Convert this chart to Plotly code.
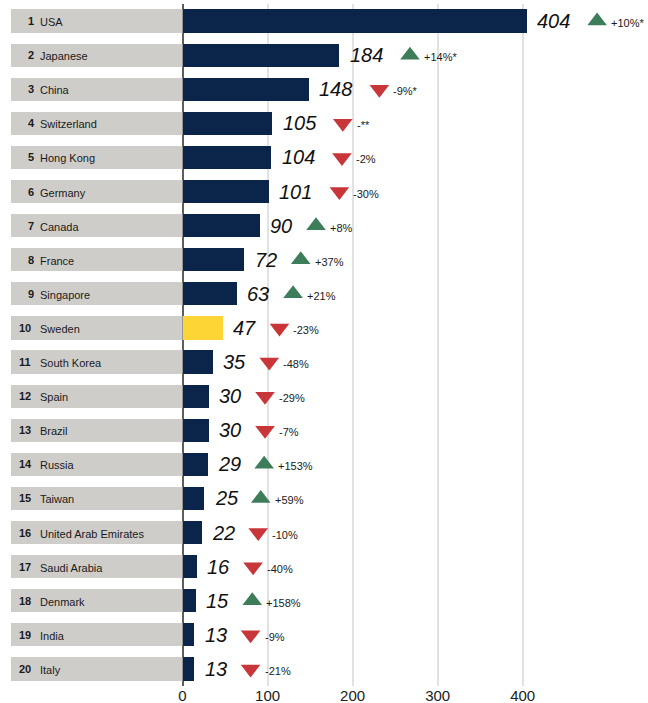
import plotly.graph_objects as go

# Ranking data
ranks = list(range(1, 21))
countries = ["USA", "Japanese", "China", "Switzerland", "Hong Kong", "Germany",
             "Canada", "France", "Singapore", "Sweden", "South Korea", "Spain",
             "Brazil", "Russia", "Taiwan", "United Arab Emirates", "Saudi Arabia",
             "Denmark", "India", "Italy"]
values = [404, 184, 148, 105, 104, 101, 90, 72, 63, 47, 35, 30, 30, 29, 25,
          22, 16, 15, 13, 13]
changes = ["+10%*", "+14%*", "-9%*", "-**", "-2%", "-30%", "+8%", "+37%", "+21%",
           "-23%", "-48%", "-29%", "-7%", "+153%", "+59%", "-10%", "-40%",
           "+158%", "-9%", "-21%"]
trend = ["up", "up", "down", "down", "down", "down", "up", "up", "up", "down",
         "down", "down", "down", "up", "up", "down", "down", "up", "down", "down"]
highlight = "Sweden"
tick_values = [0, 100, 200, 300, 400]

# Layout geometry (pixels)
W, H = 648, 703
x0 = 182.5          # left edge of the value axis
k = 0.8505          # pixels per unit on the value axis
label_left = 11
x_max = (W - x0) / k

NAVY = "#0a2549"
YELLOW = "#fdd535"
GREY_BOX = "#cfcdca"
GREEN = "#3e7d5a"
RED = "#c8363a"
FONT = "Liberation Sans, Arial, sans-serif"

fig = go.Figure()

# Grey label boxes
fig.add_trace(go.Bar(
    y=ranks, x=[1] * len(ranks), orientation="h",
    xaxis="x2", yaxis="y",
    marker=dict(color=GREY_BOX, line=dict(width=0)),
    width=0.68, hoverinfo="skip", showlegend=False,
))

# Main bars
fig.add_trace(go.Bar(
    y=ranks, x=values, orientation="h",
    marker=dict(color=[YELLOW if c == highlight else NAVY for c in countries],
                line=dict(width=0)),
    width=0.68, showlegend=False,
))

# Trend triangles, placed after the value label
tri_x = [v + (29 + 14 * len(str(v))) / k for v in values]
fig.add_trace(go.Scatter(
    x=tri_x, y=ranks, mode="markers",
    marker=dict(
        symbol=["triangle-up" if t == "up" else "triangle-down" for t in trend],
        color=[GREEN if t == "up" else RED for t in trend],
        size=17, line=dict(width=0)),
    cliponaxis=False, showlegend=False, hoverinfo="skip",
))

annotations = []
for r, c, v, ch, tx in zip(ranks, countries, values, changes, tri_x):
    rs = str(r)
    annotations.append(dict(
        xref="paper", yref="y", x=(26 if len(rs) == 1 else 17) / W, y=r,
        xanchor="left", yanchor="middle", showarrow=False,
        text=f"<b>{rs}</b>", font=dict(family=FONT, size=11, color="#1a1a1a")))
    annotations.append(dict(
        xref="paper", yref="y", x=38 / W, y=r,
        xanchor="left", yanchor="middle", showarrow=False, yshift=-1,
        text=c, font=dict(family=FONT, size=11, color="#1a1a1a")))
    annotations.append(dict(
        xref="x", yref="y", x=v, y=r, xanchor="left", yanchor="middle",
        xshift=9, showarrow=False,
        text=f"<i>{v}</i>", font=dict(family=FONT, size=20, color="#111111")))
    annotations.append(dict(
        xref="x", yref="y", x=tx, y=r, xanchor="left", yanchor="middle",
        xshift=12, yshift=-2, showarrow=False,
        text=ch, font=dict(family=FONT, size=11, color="#1a1a1a")))

fig.update_layout(
    width=W, height=H,
    margin=dict(l=0, r=0, t=4, b=17, pad=0),
    paper_bgcolor="white", plot_bgcolor="white",
    bargap=0, barmode="overlay",
    font=dict(family=FONT),
    xaxis=dict(
        domain=[x0 / W, 1], range=[0, x_max],
        tickvals=tick_values, ticks="", showline=False,
        showgrid=True, gridcolor="#e2e2e2", gridwidth=2,
        zeroline=True, zerolinecolor="#5e5e5e", zerolinewidth=1.5,
        tickfont=dict(family=FONT, size=15, color="#222222"),
        ticklabelstandoff=-1,
        automargin=False, fixedrange=True,
    ),
    xaxis2=dict(
        domain=[label_left / W, x0 / W], range=[0, 1],
        visible=False, anchor="y", fixedrange=True,
    ),
    yaxis=dict(
        range=[20.5, 0.5], visible=False, showgrid=False, zeroline=False,
        fixedrange=True,
    ),
    annotations=annotations,
)

fig.write_html("out.html")
